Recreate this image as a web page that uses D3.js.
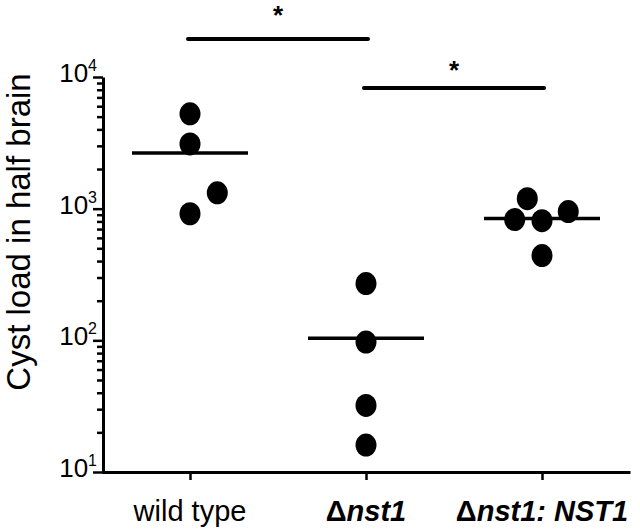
<!DOCTYPE html>
<html>
<head>
<meta charset="utf-8">
<script src="https://cdn.jsdelivr.net/npm/d3@7"></script>
<style>
  body { margin: 0; background: #fff; }
  svg { display: block; font-family: "Liberation Sans", Arial, sans-serif; }
</style>
</head>
<body>
<svg id="chart" width="640" height="530"></svg>
<script>
"use strict";

// data
const groups = ["wt", "nst1", "comp"];
const wildType = [5250, 3100, 1320, 915];
const nst1 = [270, 97, 32, 16];
const nst1Comp = [1190, 826, 811, 950, 440];
const yTicksMajor = [10, 100, 1000, 10000];
const exponents = ["1", "2", "3", "4"];
const comparisons = [["wt", "nst1"], ["nst1", "comp"]];
const sigLabels = ["*", "*"];

// sideways offsets of the points (in dot widths), like the prism scatter
const dodge = {
    wt: [0, 0, 1.3, 0],
    nst1: [0, 0, 0, 0],
    comp: [-0.7, -1.3, 0, 1.25, 0]
};

const values = { wt: wildType, nst1: nst1, comp: nst1Comp };



// setting
const setting = {
    plot: { left: 102, right: 630, top: 77, bottom: 472 },
    dot: { rx: 10.5, ry: 11.5 },
    meanHalf: 58,
    axisWidth: 3,
    sigY: [39, 88],
    starGap: [15, 9]
};

const svg = d3.select("#chart");



// scales
let scaleY = d3.scaleLog()
    .domain([10, 10000])
    .range([setting.plot.bottom, setting.plot.top]);

let scaleX = d3.scalePoint()
    .domain(groups)
    .range([setting.plot.left, setting.plot.right])
    .padding(0.5);



// y axis (minor + major ticks)
let allTicks = [];
yTicksMajor.slice(0, 3).forEach(d => {
    for (let k = 1; k < 10; k++) allTicks.push(d * k);
});
allTicks.push(10000);

let yAxis = svg.append("g")
    .attr("class", "y_axis")
    .attr("transform", `translate(${setting.plot.left + 1}, 0)`)
    .call(d3.axisLeft(scaleY).tickValues(allTicks).tickFormat("").tickSize(6).tickSizeOuter(0));

yAxis.select("path.domain").attr("stroke-width", setting.axisWidth);
yAxis.selectAll(".tick line")
    .attr("stroke-width", 2.5)
    .attr("x2", d => yTicksMajor.includes(d) ? -10 : -6);

// tick labels 10^n
yTicksMajor.forEach((d, i) => {
    let t = svg.append("text")
        .attr("x", setting.plot.left - 5)
        .attr("y", scaleY(d) + 5)
        .attr("text-anchor", "end")
        .attr("font-size", 26)
        .attr("fill", "#000");
    t.append("tspan").text("10");
    t.append("tspan").attr("dy", -11).attr("font-size", 16).text(exponents[i]);
});

// y axis title
svg.append("text")
    .attr("transform", `translate(30, 232) rotate(-90)`)
    .attr("text-anchor", "middle")
    .attr("font-size", 33)
    .attr("fill", "#000")
    .text("Cyst load in half brain");



// x axis
let xAxis = svg.append("g")
    .attr("class", "x_axis")
    .attr("transform", `translate(0, ${setting.plot.bottom})`)
    .call(d3.axisBottom(scaleX).tickFormat("").tickSize(8).tickSizeOuter(0));

xAxis.select("path.domain").attr("stroke-width", setting.axisWidth);
xAxis.selectAll(".tick line").attr("stroke-width", 2.5);

// category labels (italic gene names)
const labelY = setting.plot.bottom + 49;
let lab = svg.append("g").attr("font-size", 29).attr("fill", "#000").attr("text-anchor", "middle");

lab.append("text").attr("x", scaleX("wt")).attr("y", labelY).text("wild type");

let l2 = lab.append("text").attr("x", scaleX("nst1")).attr("y", labelY).attr("font-weight", "bold");
l2.append("tspan").text("\u0394");
l2.append("tspan").attr("font-style", "italic").text("nst1");

let l3 = lab.append("text").attr("x", scaleX("comp")).attr("y", labelY).attr("font-weight", "bold");
l3.append("tspan").text("\u0394");
l3.append("tspan").attr("font-style", "italic").text("nst1: NST1");



// points
const dotStep = setting.dot.rx * 2;
groups.forEach(g => {
    svg.append("g")
        .attr("class", "dots")
        .selectAll("ellipse")
        .data(values[g])
        .join("ellipse")
        .attr("cx", (d, i) => scaleX(g) + dodge[g][i] * dotStep)
        .attr("cy", d => scaleY(d))
        .attr("rx", setting.dot.rx)
        .attr("ry", setting.dot.ry)
        .attr("fill", "#000");
});

// mean lines
svg.append("g")
    .selectAll("line")
    .data(groups)
    .join("line")
    .attr("x1", g => scaleX(g) - setting.meanHalf)
    .attr("x2", g => scaleX(g) + setting.meanHalf)
    .attr("y1", g => scaleY(d3.mean(values[g])))
    .attr("y2", g => scaleY(d3.mean(values[g])))
    .attr("stroke", "#000")
    .attr("stroke-width", 3.5);



// significance bars
comparisons.forEach((c, i) => {
    svg.append("line")
        .attr("x1", scaleX(c[0]) - 2)
        .attr("x2", scaleX(c[1]) + 2)
        .attr("y1", setting.sigY[i])
        .attr("y2", setting.sigY[i])
        .attr("stroke", "#000")
        .attr("stroke-width", 4)
        .attr("stroke-linecap", "round");
    svg.append("text")
        .attr("x", (scaleX(c[0]) + scaleX(c[1])) / 2)
        .attr("y", setting.sigY[i] - setting.starGap[i])
        .attr("text-anchor", "middle")
        .attr("font-size", 26)
        .attr("font-weight", "bold")
        .attr("fill", "#000")
        .text(sigLabels[i]);
});
</script>
</body>
</html>
